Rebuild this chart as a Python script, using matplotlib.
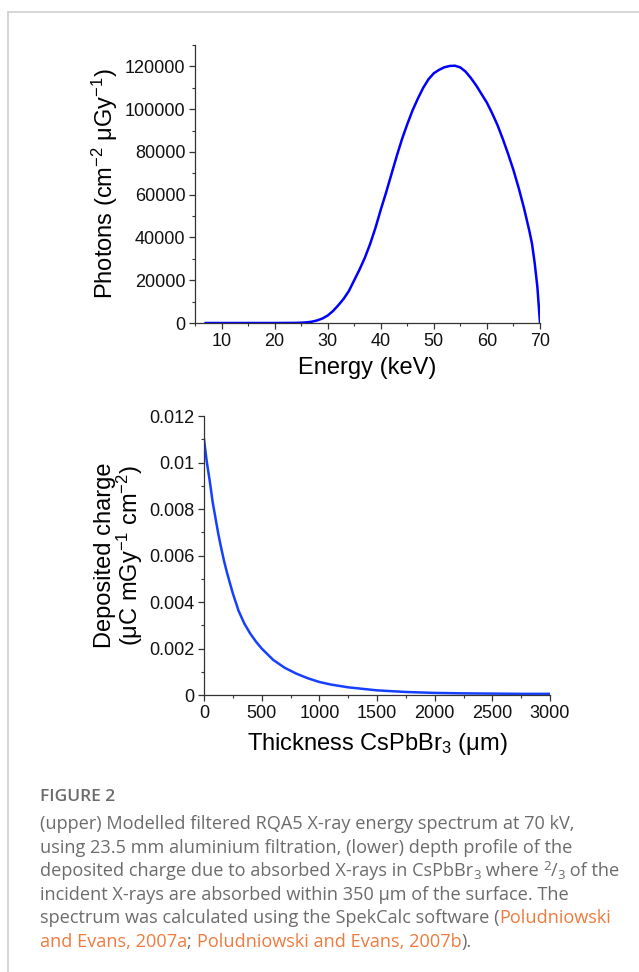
import matplotlib
matplotlib.use('Agg')
import matplotlib.pyplot as plt
from matplotlib.ticker import MultipleLocator
from matplotlib.lines import Line2D

# upper panel: filtered RQA5 spectrum
energy_kev = [7, 10, 15, 20, 24, 25, 26, 27, 28, 29, 30, 31, 32, 33, 34, 35, 36, 37, 38, 39, 40,
              41, 42, 43, 44, 45, 46, 47, 48, 49, 50, 51, 52, 53, 54, 55, 56, 57, 58, 59, 60,
              61, 62, 63, 64, 65, 66, 67, 68, 68.5, 69, 69.5, 70]
photons = [0, 0, 0, 0, 60, 150, 300, 600, 1200, 2100, 3500, 5600, 8300, 11300, 15000, 20000,
           25000, 30500, 37000, 44500, 53000, 61000, 69500, 78000, 86000, 93000, 99500, 105000,
           110000, 114000, 116800, 118400, 119600, 120200, 120300, 119500, 117500, 114500,
           111000, 107000, 103000, 98000, 92500, 86000, 79000, 71500, 63000, 53600, 43000,
           37000, 28000, 17000, 0]

# lower panel: deposited charge depth profile
thickness_um = [0, 25, 50, 75, 100, 125, 150, 175, 200, 250, 300, 350, 400, 450, 500,
                600, 700, 800, 900, 1000, 1100, 1250, 1500, 1750, 2000, 2250, 2500, 2750, 3000]
charge = [0.0110, 0.0100, 0.0092, 0.0083, 0.0076, 0.0069, 0.0063, 0.00574, 0.00525,
          0.00437, 0.00362, 0.00307, 0.00265, 0.00230, 0.00200, 0.00151, 0.00117, 0.00092,
          0.00072, 0.00056, 0.00045, 0.00033, 0.00020, 0.00013, 0.00009, 0.00007, 0.00006,
          0.00005, 0.00005]

plt.rcParams['font.family'] = ['Liberation Sans', 'DejaVu Sans']
plt.rcParams['mathtext.fontset'] = 'custom'
plt.rcParams['mathtext.rm'] = 'Liberation Sans'
plt.rcParams['mathtext.it'] = 'Liberation Sans:italic'
plt.rcParams['mathtext.bf'] = 'Liberation Sans:bold'

W, H = 639, 972
fig = plt.figure(figsize=(W / 100, H / 100), dpi=100)


def px_axes(left, top, right, bottom):
    return fig.add_axes([left / W, 1 - bottom / H, (right - left) / W, (bottom - top) / H])


def style(ax):
    for s in ('top', 'right'):
        ax.spines[s].set_visible(False)
    for s in ('left', 'bottom'):
        ax.spines[s].set_linewidth(0.9)
        ax.spines[s].set_color('#333333')
    ax.tick_params(which='major', direction='out', length=4, width=0.9, color='#333333',
                   labelsize=13, pad=3, labelcolor='#111111')
    ax.tick_params(which='minor', direction='out', length=2.2, width=0.8, color='#333333')


# --- upper chart
ax1 = px_axes(195, 45, 540, 323)
ax1.plot(energy_kev, photons, color='#0000ff', lw=1.8)
ax1.set_xlim(5, 70)
ax1.set_ylim(0, 130000)
ax1.xaxis.set_major_locator(MultipleLocator(10))
ax1.xaxis.set_minor_locator(MultipleLocator(5))
ax1.yaxis.set_major_locator(MultipleLocator(20000))
ax1.yaxis.set_minor_locator(MultipleLocator(10000))
style(ax1)
ax1.set_xlabel('Energy (keV)', fontsize=17, labelpad=5)
ax1.set_ylabel('Photons (cm$^{-2}$ μGy$^{-1}$)', fontsize=17, labelpad=3)

# --- lower chart
ax2 = px_axes(204, 416, 550, 695)
ax2.plot(thickness_um, charge, color='#1540ff', lw=1.8)
ax2.set_xlim(0, 3000)
ax2.set_ylim(0, 0.012)
ax2.xaxis.set_major_locator(MultipleLocator(500))
ax2.xaxis.set_minor_locator(MultipleLocator(250))
ax2.yaxis.set_minor_locator(MultipleLocator(0.001))
ax2.set_yticks([0, 0.002, 0.004, 0.006, 0.008, 0.01, 0.012])
ax2.set_yticklabels(['0', '0.002', '0.004', '0.006', '0.008', '0.01', '0.012'])
style(ax2)
ax2.set_xlabel('Thickness CsPbBr$_3$ (μm)', fontsize=17, labelpad=7)
ax2.set_ylabel('Deposited charge\n(μC mGy$^{-1}$ cm$^{-2}$)', fontsize=17, labelpad=3,
               linespacing=0.95)

# --- page frame
fig.add_artist(Line2D([8 / W, 1], [1 - 12 / H, 1 - 12 / H], color='#d0d0d0', lw=1.2))
fig.add_artist(Line2D([8 / W, 8 / W], [1 - 12 / H, 0], color='#d0d0d0', lw=1.2))

# --- caption
gray = '#6b6b6b'
orange = '#f07a3c'
cap_font = ['Open Sans', 'DejaVu Sans']
cap_size = 13.1
x0 = 40

fig.text(x0 / W, 1 - 797 / H, 'FIGURE 2', fontsize=12.5, fontweight='semibold', color=gray,
         family=cap_font, va='center')

# pieces: (text, colour, kind) with kind n = normal, sub, sup
lines = [
    [('(upper) Modelled filtered RQA5 X-ray energy spectrum at 70 kV,', gray, 'n')],
    [('using 23.5 mm aluminium filtration, (lower) depth profile of the', gray, 'n')],
    [('deposited charge due to absorbed X-rays in CsPbBr', gray, 'n'), ('3', gray, 'sub'),
     (' where ', gray, 'n'), ('2', gray, 'sup'), ('/', gray, 'n'), ('3', gray, 'sub'),
     (' of the', gray, 'n')],
    [('incident X-rays are absorbed within 350 µm of the surface. The', gray, 'n')],
    [('spectrum was calculated using the SpekCalc software (', gray, 'n'),
     ('Poludniowski', orange, 'n')],
    [('and Evans, 2007a', orange, 'n'), ('; ', gray, 'n'),
     ('Poludniowski and Evans, 2007b', orange, 'n'), (').', gray, 'n')],
]
line_base = [829, 852.5, 876, 899.5, 923, 946.5]
shift = {'n': 0, 'sub': 3, 'sup': -6}

renderer = fig.canvas.get_renderer()
for parts, yb in zip(lines, line_base):
    x = x0
    for txt, col, kind in parts:
        size = cap_size if kind == 'n' else cap_size * 0.72
        t = fig.text(x / W, 1 - (yb + shift[kind]) / H, txt, fontsize=size, color=col,
                     family=cap_font, va='baseline')
        bb = t.get_window_extent(renderer=renderer)
        x += bb.width

fig.savefig('out.png', dpi=100)
